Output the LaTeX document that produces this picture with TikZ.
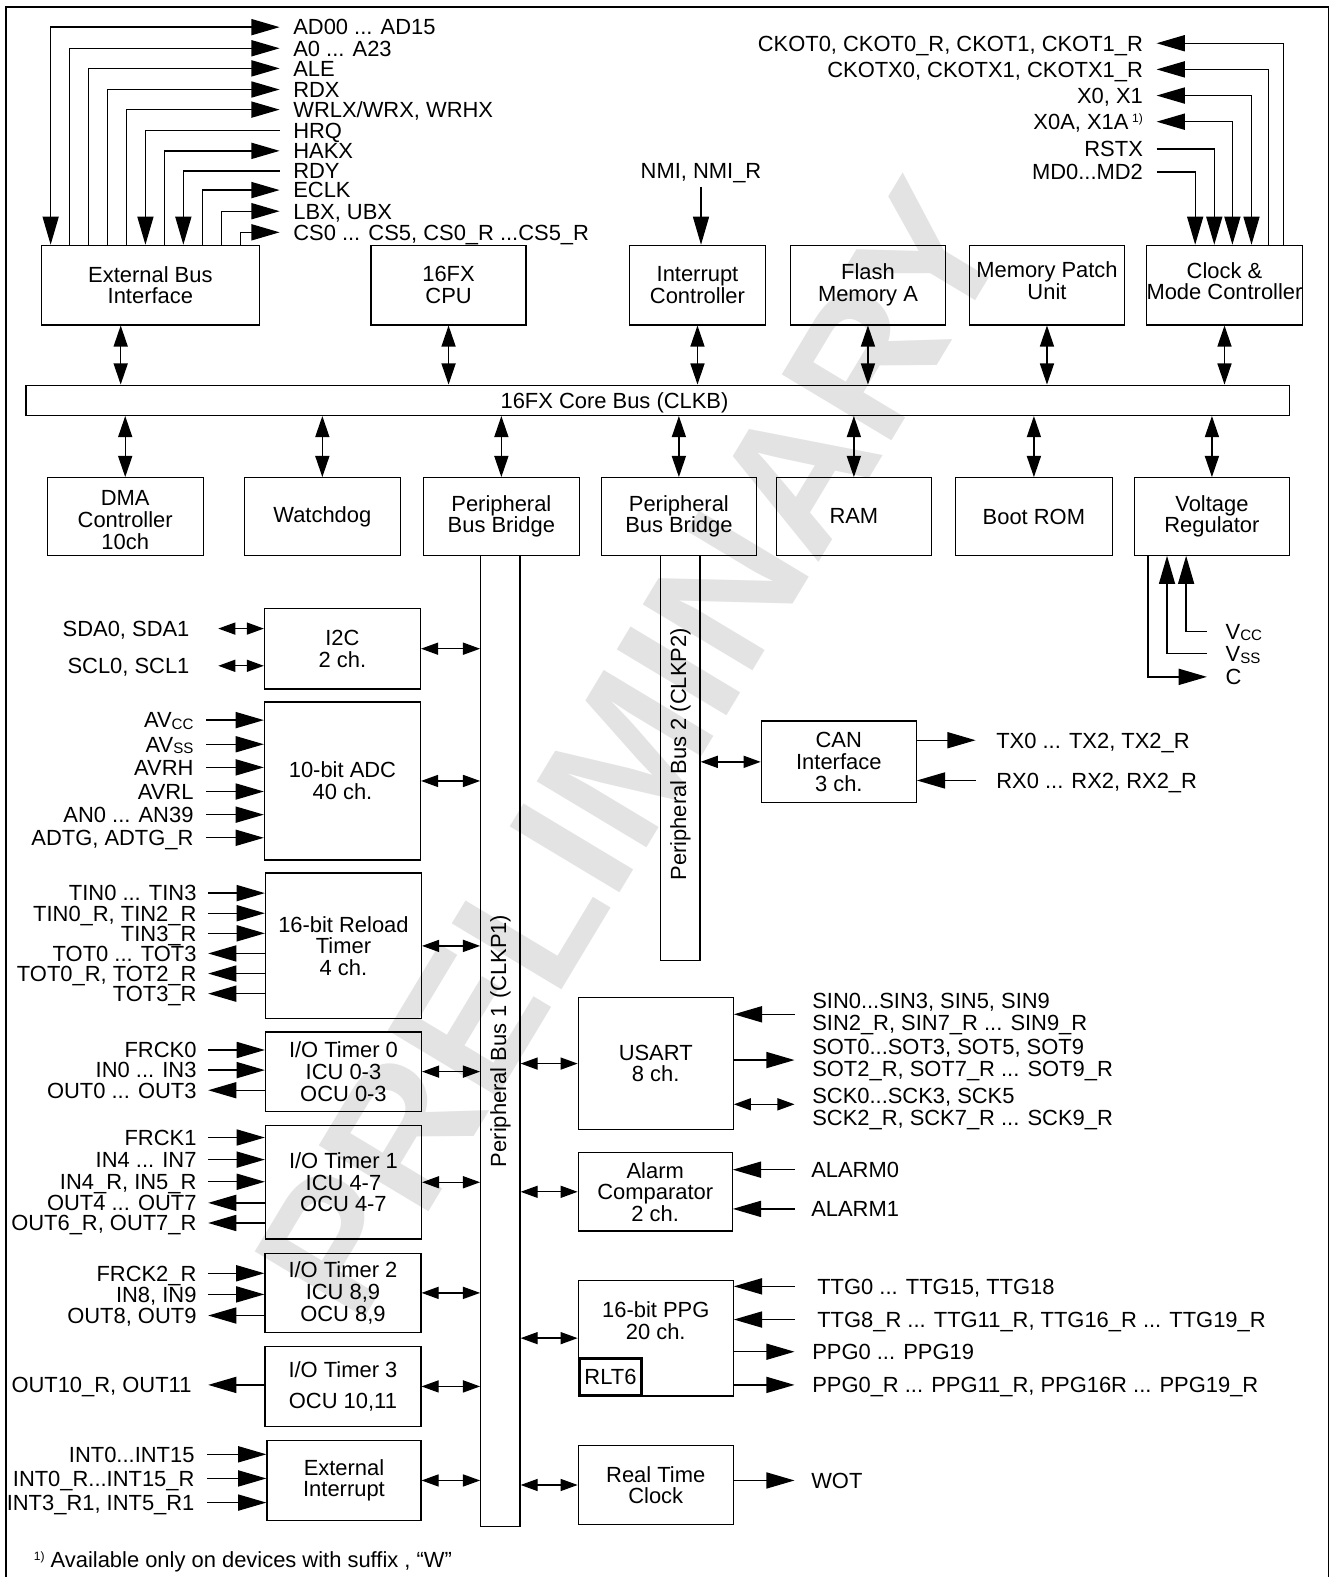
\documentclass[tikz,border=0pt]{standalone}
\usepackage{fontspec}
\setmainfont{Liberation Sans}
\usetikzlibrary{arrows.meta}
\newcommand\fsz{\fontsize{21.8}{21.5}\selectfont}
\newcommand\lowsc[1]{\raisebox{-1.5pt}{\fontsize{15}{15}\selectfont #1}}
\newcommand\fnmk{\raisebox{7pt}{\fontsize{12}{12}\selectfont 1)}}
\begin{document}
\begin{tikzpicture}[x=1pt,y=-1pt,line width=1.3pt,
 blk/.style={draw,inner sep=0pt,align=center,font=\fsz},
 txt/.style={inner sep=0pt,align=center,font=\fsz},
 lbl/.style={inner sep=0pt,font=\fsz,text height=15.6pt,text depth=0pt},
 lbltwo/.style={inner sep=0pt,font=\fsz,align=left},
 arr/.style={-{Triangle[length=28pt,width=16pt]}},
 arrtwo/.style={{Triangle[length=28pt,width=16pt]}-{Triangle[length=28pt,width=16pt]}},
 hbi/.style={{Triangle[length=17pt,width=12pt]}-{Triangle[length=17pt,width=12pt]}},
 vbi/.style={{Triangle[length=21pt,width=14pt]}-{Triangle[length=21pt,width=14pt]}}]
\useasboundingbox (0,0) rectangle (1326,1568);
% watermark
\node[rotate=59,text=black!11,font=\fontsize{185}{185}\selectfont\bfseries,inner sep=0pt] (wm) at (628,745) {PRELIMINARY};
% frame
\draw (6,1568) -- (6,7) -- (1321,7) -- (1321,1568);

% row 1
\node[blk,minimum width=217pt,minimum height=79pt] (ebi) at (149.5,283.5) {External Bus\\Interface};
\node[blk,minimum width=154pt,minimum height=79pt] (cpu) at (446,283.5) {16FX\\CPU};
\node[blk,minimum width=135pt,minimum height=79pt] (ic) at (693.5,283.5) {Interrupt\\Controller};
\node[blk,minimum width=154pt,minimum height=79pt] (flash) at (863,283.5) {Flash\\Memory A};
\node[blk,minimum width=154pt,minimum height=79pt] (mpu) at (1041,283.5) {};
\node[txt] (mput) at (1041,279) {Memory Patch\\Unit};
\node[blk,minimum width=155pt,minimum height=79pt] (clk) at (1217.5,283.5) {};
\node[txt] (clkt) at (1217.5,279.5) {Clock \&\\Mode Controller};

% core bus
\node[draw,inner sep=0pt,minimum width=1256pt,minimum height=30pt] (cbus) at (654,398) {};
\node[lbl] (cbt) at (611,398) {16FX Core Bus (CLKB)};

% row 2
\node[blk,minimum width=155pt,minimum height=77pt] (dma) at (124.5,513.5) {};
\node[txt] (dmat) at (124.5,517) {DMA\\Controller\\10ch};
\node[blk,minimum width=155pt,minimum height=77pt] (wd) at (320.5,513.5) {Watchdog};
\node[blk,minimum width=155pt,minimum height=77pt] (pbb1) at (498.5,513.5) {Peripheral\\Bus Bridge};
\node[blk,minimum width=154pt,minimum height=77pt] (pbb2) at (675,513.5) {Peripheral\\Bus Bridge};
\node[blk,minimum width=154pt,minimum height=77pt] (ram) at (849,513.5) {RAM};
\node[blk,minimum width=156pt,minimum height=77pt] (boot) at (1028,513.5) {Boot ROM};
\node[blk,minimum width=154pt,minimum height=77pt] (vr) at (1205,513.5) {Voltage\\Regulator};

% bus arrows
\path ([xshift=-29.5pt]ebi.south) coordinate (e1);
\draw[vbi] (e1) -- (e1 |- cbus.north);
\foreach \b in {cpu,ic,flash,mpu,clk} {\draw[vbi] (\b.south) -- (\b.south |- cbus.north);}
\foreach \b in {dma,wd,pbb1,pbb2,ram,boot,vr} {\draw[vbi] (cbus.south -| \b.north) -- (\b.north);}

% peripheral buses
\node[draw,inner sep=0pt,minimum width=39pt,minimum height=966pt] (pb1) at (497.5,1035) {};
\node[rotate=90,font=\fsz,inner sep=0pt] (pb1t) at (pb1) {Peripheral Bus 1 (CLKP1)};
\node[draw,inner sep=0pt,minimum width=39pt,minimum height=403pt] (pb2) at (676.5,753.5) {};
\node[rotate=90,font=\fsz,inner sep=0pt] (pb2t) at (676.5,750) {Peripheral Bus 2 (CLKP2)};

% top-left external bus signals
\node[lbl,anchor=west] (s0) at (291,27) {AD00 ... AD15};
\node[lbl,anchor=west] (s1) at (291,48) {A0 ... A23};
\node[lbl,anchor=west] (s2) at (291,68) {ALE};
\node[lbl,anchor=west] (s3) at (291,89) {RDX};
\node[lbl,anchor=west] (s4) at (291,109) {WRLX/WRX, WRHX};
\node[lbl,anchor=west] (s5) at (291,130) {HRQ};
\node[lbl,anchor=west] (s6) at (291,150) {HAKX};
\node[lbl,anchor=west] (s7) at (291,170) {RDY};
\node[lbl,anchor=west] (s8) at (291,189) {ECLK};
\node[lbl,anchor=west] (s9) at (291,210) {LBX, UBX};
\node[lbl,anchor=west] (s10) at (291,231) {CS0 ... CS5, CS0\_R ...CS5\_R};
\draw[arrtwo] ([xshift=10pt]ebi.north west) |- ([xshift=-13pt]s0.west);
\draw[arr] ([xshift=28.85pt]ebi.north west) |- ([xshift=-13pt]s1.west);
\draw[arr] ([xshift=47.7pt]ebi.north west) |- ([xshift=-13pt]s2.west);
\draw[arr] ([xshift=66.55pt]ebi.north west) |- ([xshift=-13pt]s3.west);
\draw[arr] ([xshift=85.4pt]ebi.north west) |- ([xshift=-13pt]s4.west);
\draw[arr] ([xshift=-13pt]s5.west) -| ([xshift=104.25pt]ebi.north west);
\draw[arr] ([xshift=123.1pt]ebi.north west) |- ([xshift=-13pt]s6.west);
\draw[arr] ([xshift=-13pt]s7.west) -| ([xshift=141.95pt]ebi.north west);
\draw[arr] ([xshift=160.8pt]ebi.north west) |- ([xshift=-13pt]s8.west);
\draw[arr] ([xshift=179.65pt]ebi.north west) |- ([xshift=-13pt]s9.west);
\draw[arr] ([xshift=198.5pt]ebi.north west) |- ([xshift=-13pt]s10.west);

% top-right clock signals
\node[lbl,anchor=east] (r0) at (1137,43) {CKOT0, CKOT0\_R, CKOT1, CKOT1\_R};
\node[lbl,anchor=east] (r1) at (1137,69) {CKOTX0, CKOTX1, CKOTX1\_R};
\node[lbl,anchor=east] (r2) at (1137,95) {X0, X1};
\node[lbl,anchor=east] (r3) at (1137,121) {X0A, X1A\,\fnmk};
\node[lbl,anchor=east] (r4) at (1137,148) {RSTX};
\node[lbl,anchor=east] (r5) at (1137,171) {MD0...MD2};
\draw[arr] ([xshift=137pt]clk.north west) |- ([xshift=13pt]r0.east);
\draw[arr] ([xshift=122pt]clk.north west) |- ([xshift=13pt]r1.east);
\draw[arrtwo] ([xshift=105pt]clk.north west) |- ([xshift=13pt]r2.east);
\draw[arrtwo] ([xshift=86pt]clk.north west) |- ([xshift=13pt]r3.east);
\draw[arr] ([xshift=13pt]r4.east) -| ([xshift=68pt]clk.north west);
\draw[arr] ([xshift=13pt]r5.east) -| ([xshift=49pt]clk.north west);

% NMI
\node[lbl] (nmi) at (697,170) {NMI, NMI\_R};
\draw[arr] ([yshift=-7pt]nmi.south) -- (nmi.south |- ic.north);

% voltage regulator pins
\node[lbl,anchor=west] (vcc) at (1218,628) {V\lowsc{CC}};
\node[lbl,anchor=west] (vss) at (1218,650) {V\lowsc{SS}};
\node[lbl,anchor=west] (cc) at (1218,673) {C};
\draw[arr] ([xshift=-18pt]vcc.west) -| ([xshift=52pt]vr.south west);
\draw[arr] ([xshift=-18pt]vss.west) -| ([xshift=33pt]vr.south west);
\draw[arr] ([xshift=14pt]vr.south west) |- ([xshift=-18pt]cc.west);

% left peripherals
\node[blk,minimum width=155pt,minimum height=80pt] (i2c) at (340.5,645) {I2C\\2 ch.};
\node[blk,minimum width=155pt,minimum height=157pt] (adc) at (340.5,776.5) {10-bit ADC\\40 ch.};
\node[blk,minimum width=155pt,minimum height=145pt] (rlt) at (341.5,940.5) {16-bit Reload\\Timer\\4 ch.};
\node[blk,minimum width=155pt,minimum height=79pt] (iot0) at (341.5,1065.5) {I/O Timer 0\\ICU 0-3\\OCU 0-3};
\node[blk,minimum width=155pt,minimum height=113pt] (iot1) at (341.5,1175.5) {I/O Timer 1\\ICU 4-7\\OCU 4-7};
\node[blk,minimum width=155pt,minimum height=79pt] (iot2) at (341,1285.5) {I/O Timer 2\\ICU 8,9\\OCU 8,9};
\node[blk,minimum width=155pt,minimum height=79pt] (iot3) at (341,1378.5) {I/O Timer 3\\[9pt]OCU 10,11};
\node[blk,minimum width=153pt,minimum height=80pt] (exti) at (342,1472) {External\\Interrupt};
\foreach \b in {i2c,adc,rlt,iot0,iot1,iot2,iot3,exti} {\draw[hbi] (\b.east) -- (\b.east -| pb1.west);}

% right peripherals
\node[blk,minimum width=154pt,minimum height=131pt] (usart) at (652,1057.5) {USART\\8 ch.};
\node[blk,minimum width=153pt,minimum height=78pt] (alarm) at (651.5,1185) {Alarm\\Comparator\\2 ch.};
\node[draw,inner sep=0pt,minimum width=154pt,minimum height=115pt] (ppg) at (652,1330.5) {};
\node[txt] (ppgt) at (652,1313) {16-bit PPG\\20 ch.};
\node[draw,line width=2.8pt,inner sep=0pt,minimum width=62pt,minimum height=37pt,font=\fsz] (rlt6) at (607,1369) {RLT6};
\node[blk,minimum width=154pt,minimum height=79pt] (rtc) at (652,1476.5) {Real Time\\Clock};
\node[blk,minimum width=154pt,minimum height=81pt] (can) at (834,757.5) {CAN\\Interface\\3 ch.};
\foreach \b in {usart,alarm,ppg,rtc} {\draw[hbi] (\b.west -| pb1.east) -- (\b.west);}
\draw[hbi] (can.west -| pb2.east) -- (can.west);

% I2C signals
\node[lbl,anchor=east] (sda) at (189,625) {SDA0, SDA1};
\node[lbl,anchor=east] (scl) at (189,662) {SCL0, SCL1};
\draw[hbi] ([xshift=28pt]sda.east) -- (sda.east -| i2c.west);
\draw[hbi] ([xshift=28pt]scl.east) -- (scl.east -| i2c.west);

% ADC signals
\node[lbl,anchor=east] (avcc) at (193,716) {AV\lowsc{CC}};
\node[lbl,anchor=east] (avss) at (193,740) {AV\lowsc{SS}};
\node[lbl,anchor=east] (avrh) at (193,763) {AVRH};
\node[lbl,anchor=east] (avrl) at (193,787) {AVRL};
\node[lbl,anchor=east] (an) at (193,810) {AN0 ... AN39};
\node[lbl,anchor=east] (adtg) at (193,833) {ADTG, ADTG\_R};
\foreach \l in {avcc,avss,avrh,avrl,an,adtg} {\draw[arr] ([xshift=12pt]\l.east) -- (\l.east -| adc.west);}

% reload timer signals
\node[lbl,anchor=east] (tin0) at (196,888) {TIN0 ... TIN3};
\node[lbl,anchor=east] (tin1) at (196,908) {TIN0\_R, TIN2\_R};
\node[lbl,anchor=east] (tin2) at (196,928) {TIN3\_R};
\node[lbl,anchor=east] (tot0) at (196,948) {TOT0 ... TOT3};
\node[lbl,anchor=east] (tot1) at (196,968) {TOT0\_R, TOT2\_R};
\node[lbl,anchor=east] (tot2) at (196,988) {TOT3\_R};
\foreach \l in {tin0,tin1,tin2} {\draw[arr] ([xshift=11pt]\l.east) -- (\l.east -| rlt.west);}
\foreach \l in {tot0,tot1,tot2} {\draw[arr] (\l.east -| rlt.west) -- ([xshift=11pt]\l.east);}

% I/O timer 0
\node[lbl,anchor=east] (frck0) at (196,1044) {FRCK0};
\node[lbl,anchor=east] (in0) at (196,1064) {IN0 ... IN3};
\node[lbl,anchor=east] (out0) at (196,1084) {OUT0 ... OUT3};
\foreach \l in {frck0,in0} {\draw[arr] ([xshift=11pt]\l.east) -- (\l.east -| iot0.west);}
\draw[arr] (out0.east -| iot0.west) -- ([xshift=11pt]out0.east);

% I/O timer 1
\node[lbl,anchor=east] (frck1) at (196,1131) {FRCK1};
\node[lbl,anchor=east] (in4) at (196,1153) {IN4 ... IN7};
\node[lbl,anchor=east] (in4r) at (196,1175) {IN4\_R, IN5\_R};
\node[lbl,anchor=east] (out4) at (196,1196) {OUT4 ... OUT7};
\node[lbl,anchor=east] (out6) at (196,1216) {OUT6\_R, OUT7\_R};
\foreach \l in {frck1,in4,in4r} {\draw[arr] ([xshift=11pt]\l.east) -- (\l.east -| iot1.west);}
\foreach \l in {out4,out6} {\draw[arr] (\l.east -| iot1.west) -- ([xshift=11pt]\l.east);}

% I/O timer 2
\node[lbl,anchor=east] (frck2) at (196,1266) {FRCK2\_R};
\node[lbl,anchor=east] (in8) at (196,1287) {IN8, IN9};
\node[lbl,anchor=east] (out8) at (196,1308) {OUT8, OUT9};
\foreach \l in {frck2,in8} {\draw[arr] ([xshift=11pt]\l.east) -- (\l.east -| iot2.west);}
\draw[arr] (out8.east -| iot2.west) -- ([xshift=11pt]out8.east);

% I/O timer 3
\node[lbl,anchor=east] (out10) at (191,1377) {OUT10\_R, OUT11};
\draw[arr] (out10.east -| iot3.west) -- ([xshift=16pt]out10.east);

% external interrupt
\node[lbl,anchor=east] (int0) at (194,1446) {INT0...INT15};
\node[lbl,anchor=east] (int1) at (194,1470) {INT0\_R...INT15\_R};
\node[lbl,anchor=east] (int2) at (194,1494) {INT3\_R1, INT5\_R1};
\foreach \l in {int0,int1,int2} {\draw[arr] ([xshift=12pt]\l.east) -- (\l.east -| exti.west);}

% USART signals
\node[lbltwo,anchor=west] (sin) at (807,1008.5) {SIN0...SIN3, SIN5, SIN9\\SIN2\_R, SIN7\_R ... SIN9\_R};
\node[lbltwo,anchor=west] (sot) at (807,1054) {SOT0...SOT3, SOT5, SOT9\\SOT2\_R, SOT7\_R ... SOT9\_R};
\node[lbltwo,anchor=west] (sck) at (807,1102.5) {SCK0...SCK3, SCK5\\SCK2\_R, SCK7\_R ... SCK9\_R};
\draw[arr] ([xshift=-17pt]sin.west) -- (sin.west -| usart.east);
\draw[arr] (sot.west -| usart.east) -- ([xshift=-17pt]sot.west);
\path ([xshift=-17pt,yshift=4.5pt]sck.west) coordinate (sckE);
\draw[hbi] (sckE -| usart.east) -- (sckE);

% alarm
\node[lbl,anchor=west] (al0) at (806,1163) {ALARM0};
\node[lbl,anchor=west] (al1) at (806,1202) {ALARM1};
\foreach \l in {al0,al1} {\draw[arr] ([xshift=-16pt]\l.west) -- (\l.west -| alarm.east);}

% PPG
\node[lbl,anchor=west] (tt0) at (812,1279) {TTG0 ... TTG15, TTG18};
\node[lbl,anchor=west] (tt1) at (812,1312) {TTG8\_R ... TTG11\_R, TTG16\_R ... TTG19\_R};
\node[lbl,anchor=west] (pp0) at (807,1344) {PPG0 ... PPG19};
\node[lbl,anchor=west] (pp1) at (807,1377) {PPG0\_R ... PPG11\_R, PPG16R ... PPG19\_R};
\foreach \l in {tt0,tt1} {\draw[arr] ([xshift=-22pt]\l.west) -- (\l.west -| ppg.east);}
\foreach \l in {pp0,pp1} {\draw[arr] (\l.west -| ppg.east) -- ([xshift=-17pt]\l.west);}

% RTC
\node[lbl,anchor=west] (wot) at (806,1472) {WOT};
\draw[arr] (wot.west -| rtc.east) -- ([xshift=-16pt]wot.west);

% CAN
\node[lbl,anchor=west] (tx) at (990,736) {TX0 ... TX2, TX2\_R};
\node[lbl,anchor=west] (rx) at (990,776) {RX0 ... RX2, RX2\_R};
\draw[arr] (tx.west -| can.east) -- ([xshift=-20pt]tx.west);
\draw[arr] ([xshift=-20pt]rx.west) -- (rx.west -| can.east);

% footnote
\node[inner sep=0pt,font=\fsz,anchor=west] (fn) at (33,1553) {\fnmk\ Available only on devices with suffix , “W”};
\end{tikzpicture}
\end{document}
